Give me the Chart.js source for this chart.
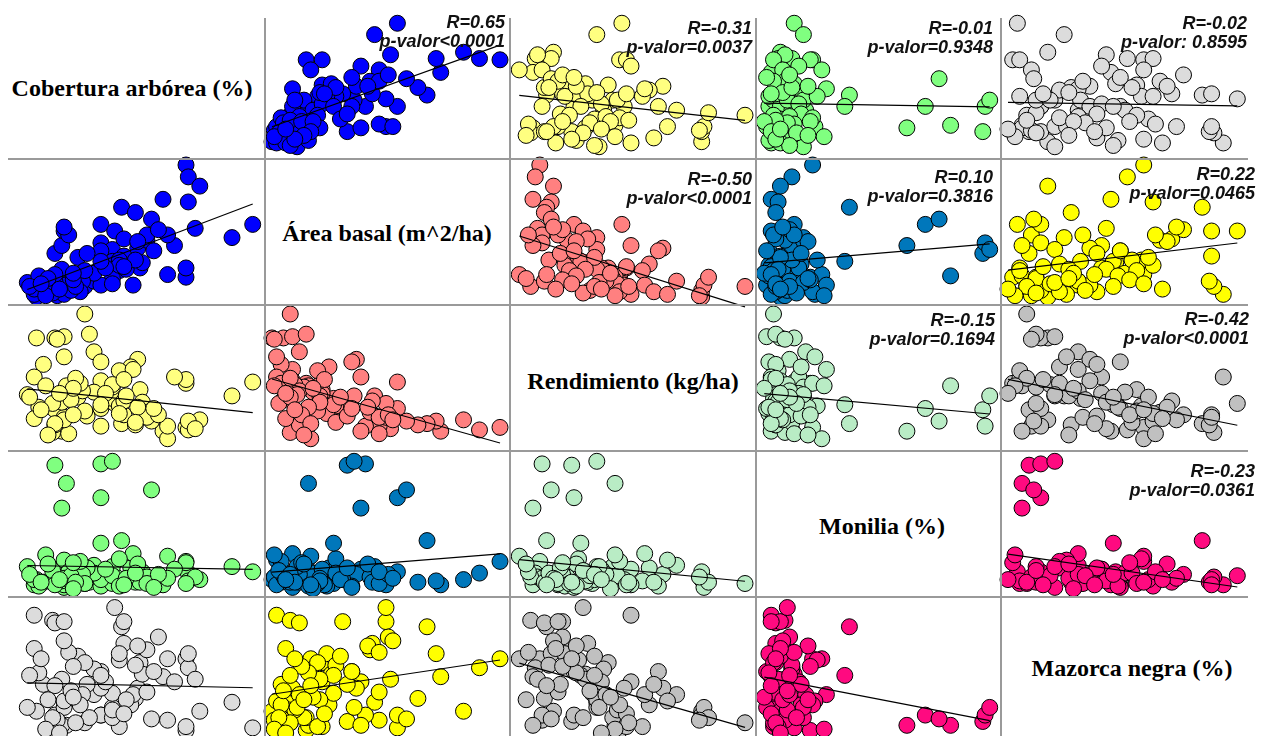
<!DOCTYPE html>
<html>
<head>
<meta charset="utf-8">
<script src="https://cdn.jsdelivr.net/npm/chart.js@4.4.1/dist/chart.umd.min.js"></script>
<style>
  html, body { margin: 0; padding: 0; background: #fff; }
  body { width: 1270px; height: 736px; position: relative; overflow: hidden; }
  canvas.panel { position: absolute; }
  .gl { position: absolute; background: #9a9a9a; z-index: 5; }
  .stat { position: absolute; z-index: 6; font: italic bold 18px "Liberation Sans", Arial, sans-serif;
          line-height: 19px; text-align: right; white-space: pre; color: #111; }
  .varlab { position: absolute; z-index: 6; font: bold 24px "Liberation Serif", "Times New Roman", serif;
            transform: translate(-50%, -50%); white-space: nowrap; color: #000; }
</style>
</head>
<body>
<script>
// variables del diagrama (una observación por posición)
const varLabels = ['Cobertura arbórea (%)', 'Área basal (m^2/ha)', 'Rendimiento (kg/ha)', 'Monilia (%)', 'Mazorca negra (%)'];

const cobertura = [70,71,76,60,71,42,48,99,90,74, 70,70,62,65,62,13,33,38,18,33,
  55,16,26,5,13,17,28,30,14,49, 33,46,41,47,8,17,4,12,13,43,
  17,39,50,51,53,38,38,33,30,41, 43,38,41,35,53,49,44,48,43,58,
  33,23,27,56,25,26,24,16,19,17, 1,6,20,22,21,21,12,4,9,13, 2,10,7,15];

const areaBasal = [42.0,38.4,35.6,31.6,30.8,29.2,27.6,24.0,20.0,22.8, 8.0,10.8,8.8,17.6,20.8,15.2,18.4,16.4,8.4,24.0,
  25.6,17.6,5.2,2.0,4.0,5.6,8.0,6.8,2.4,16.8, 16.0,12.0,10.0,5.6,3.6,2.8,2.8,5.2,6.8,14.4,
  22.0,22.0,10.8,12.4,19.2,12.8,7.6,5.6,9.2,13.2, 19.6,6.0,11.6,10.8,20.8,18.8,10.4,13.2,11.2,22.4,
  12.8,14.0,15.2,16.0,6.8,10.0,3.6,10.4,20.8,23.2, 6.4,8.4,4.0,5.2,7.2,9.2,3.2,4.4,2.4,8.8, 5.2,7.6,6.0,4.4];

const rendimiento = [200,180,260,170,250,230,220,560,450,190, 550,580,110,600,210,340,210,450,530,350,
  250,170,1100,910,910,920,940,800,900,740, 720,680,650,660,700,760,600,160,220,300,
  280,390,500,400,320,430,520,570,480,370, 410,540,310,470,280,360,450,240,580,300,
  380,440,290,350,490,330,550,400,150,260, 460,360,420,590,300,510,390,270,530,230, 440,140,340,470];

const monilia = [11.0,6.5,4.0,2.0,3.5,19.0,3.0,7.0,9.0,5.0, 10.5,2.5,13.0,8.0,4.5,48.0,48.5,49.5,41.0,35.5,
  38.5,31.5,2.5,4.0,7.0,1.0,3.0,9.5,5.0,6.0, 1.5,8.5,3.5,14.0,3.0,11.5,2.0,5.0,3.0,4.0,
  2.0,5.5,3.0,7.0,5.0,2.5,9.0,4.0,6.5,12.0, 3.0,5.5,1.5,8.0,2.5,10.0,4.5,6.5,2.0,6.0,
  18.0,4.0,8.5,1.0,6.0,2.5,11.0,3.5,7.0,4.5, 9.0,1.5,5.5,3.0,10.5,0.5,7.5,4.0,13.5,2.0, 6.0,10.0,3.0,4.0];

const mazorca = [23.2,20.4,6.8,17.6,24.8,33.2,10.8,1.6,9.6,16.8, 0.8,2.0,23.2,16.0,4.0,3.6,5.6,8.0,2.4,5.6,
  4.4,2.4,3.2,6.8,5.6,8.0,4.8,12.0,4.0,14.0, 19.2,8.8,2.0,12.0,15.2,10.0,36.8,35.2,34.4,34.8,
  34.8,39.2,22.0,18.4,26.0,12.4,4.8,14.0,20.0,22.8, 28.0,7.2,24.8,16.0,12.8,27.2,10.4,21.2,6.0,30.0,
  18.0,24.0,15.2,19.2,12.0,22.0,8.8,16.8,25.2,28.8, 8.0,18.8,13.2,3.2,20.8,11.2,4.8,26.4,1.2,14.8, 18.0,10.4,23.2,0.0];

const variables = [cobertura, areaBasal, rendimiento, monilia, mazorca];
const axisMin = [0, 2, 100, 0, 0];
const axisMax = [100, 42, 1100, 50, 40];

// pares (fila, columna) del triángulo superior con su estadístico
const statPairs = [[0,1],[0,2],[0,3],[0,4],[1,2],[1,3],[1,4],[2,3],[2,4],[3,4]];
const statR = ['R=0.65','R=-0.31','R=-0.01','R=-0.02','R=-0.50','R=0.10','R=0.22','R=-0.15','R=-0.42','R=-0.23'];
const statP = ['p-valor<0.0001','p-valor=0.0037','p-valor=0.9348','p-valor: 0.8595','p-valor<0.0001',
  'p-valor=0.3816','p-valor=0.0465','p-valor=0.1694','p-valor<0.0001','p-valor=0.0361'];
const pairColors = ['#0000ff','#ffff80','#80ff80','#dcdcdc','#ff8080','#0077bb','#ffff00','#b9ecc5','#c0c0c0','#ff0a80'];

// geometría de la matriz
const colPts = [[25,255],[272,500],[517,745],[762,992],[1008,1242]];
const rowPts = [[22,148],[165,297],[314,440],[460,590],[605,733]];
const statRight = [505,752,993,1247,752,993,1255,995,1249,1255];
const statBase = [28,34,34,29,185,183,180,326,325,477];
const labelCenter = [[132,88],[387,233],[633,381],[882,526],[1132,668]];
const PAD = 12;

function pairIndex(i, j) {
  const a = Math.min(i, j), b = Math.max(i, j);
  return statPairs.findIndex(p => p[0] === a && p[1] === b);
}

// recta de mínimos cuadrados y sobre x
function fitLine(xs, ys) {
  const n = xs.length;
  const mx = xs.reduce((s, v) => s + v, 0) / n;
  const my = ys.reduce((s, v) => s + v, 0) / n;
  let sxy = 0, sxx = 0;
  for (let k = 0; k < n; k++) {
    sxy += (xs[k] - mx) * (ys[k] - my);
    sxx += (xs[k] - mx) * (xs[k] - mx);
  }
  const b = sxy / sxx, a = my - b * mx;
  const x0 = Math.min(...xs), x1 = Math.max(...xs);
  return [{ x: x0, y: a + b * x0 }, { x: x1, y: a + b * x1 }];
}

for (let i = 0; i < 5; i++) {
  for (let j = 0; j < 5; j++) {
    if (i === j) continue;
    const xs = variables[j], ys = variables[i];
    const pts = xs.map((v, k) => ({ x: v, y: ys[k] }));
    const cv = document.createElement('canvas');
    cv.className = 'panel';
    const w = colPts[j][1] - colPts[j][0] + 2 * PAD;
    const h = rowPts[i][1] - rowPts[i][0] + 2 * PAD;
    cv.width = w; cv.height = h;
    cv.style.left = (colPts[j][0] - PAD) + 'px';
    cv.style.top = (rowPts[i][0] - PAD) + 'px';
    cv.style.width = w + 'px'; cv.style.height = h + 'px';
    document.body.appendChild(cv);

    new Chart(cv, {
      type: 'scatter',
      data: {
        datasets: [
          {
            data: pts,
            backgroundColor: pairColors[pairIndex(i, j)],
            borderColor: '#000',
            borderWidth: 1,
            pointRadius: 8,
            clip: false,
            order: 1
          },
          {
            type: 'line',
            data: fitLine(xs, ys),
            borderColor: '#000',
            borderWidth: 1.2,
            pointRadius: 0,
            fill: false,
            clip: false,
            order: 0
          }
        ]
      },
      options: {
        responsive: false,
        animation: false,
        events: [],
        layout: { padding: PAD },
        plugins: { legend: { display: false }, tooltip: { enabled: false } },
        scales: {
          x: { type: 'linear', display: false, min: axisMin[j], max: axisMax[j] },
          y: { type: 'linear', display: false, min: axisMin[i], max: axisMax[i] }
        }
      }
    });
  }
}

// líneas de la cuadrícula
[265, 510, 756, 1001].forEach(x => {
  const d = document.createElement('div');
  d.className = 'gl';
  Object.assign(d.style, { left: (x - 1) + 'px', top: '18px', width: '2px', height: '730px' });
  document.body.appendChild(d);
});
[159, 305, 451, 597].forEach(y => {
  const d = document.createElement('div');
  d.className = 'gl';
  Object.assign(d.style, { left: '8px', top: (y - 1) + 'px', width: '1240px', height: '2px' });
  document.body.appendChild(d);
});

// nombres de las variables en la diagonal
varLabels.forEach((t, k) => {
  const d = document.createElement('div');
  d.className = 'varlab';
  d.textContent = t;
  d.style.left = labelCenter[k][0] + 'px';
  d.style.top = labelCenter[k][1] + 'px';
  document.body.appendChild(d);
});

// R y p-valor
statPairs.forEach((p, k) => {
  const d = document.createElement('div');
  d.className = 'stat';
  d.textContent = statR[k] + '\n' + statP[k];
  d.style.right = (1270 - statRight[k]) + 'px';
  d.style.top = (statBase[k] - 15) + 'px';
  document.body.appendChild(d);
});
</script>
</body>
</html>
